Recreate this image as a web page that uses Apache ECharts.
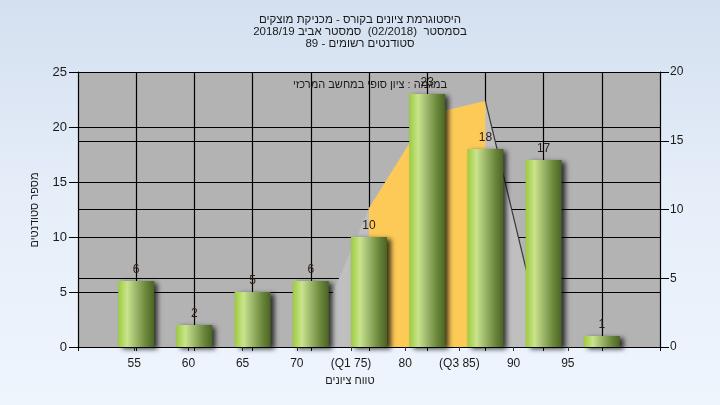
<!DOCTYPE html>
<html><head><meta charset="utf-8">
<script src="https://cdn.jsdelivr.net/npm/echarts@6/dist/echarts.min.js"></script>
<style>
html,body{margin:0;padding:0;}
#c{width:720px;height:405px;background:linear-gradient(to bottom,#d4e0f0 0%,#e6eef9 50%,#eef5fd 100%);}
</style></head>
<body><div id="c"></div>
<script>
// ---- data ----
const categories = ['55', '60', '65', '70', '(Q1 75)', '80', '(Q3 85)', '90', '95'];
const counts = [6, 2, 5, 6, 10, 23, 18, 17, 1];
// curve on the right axis
const curveOuter = [null, null, null, 0.2, 10.1, 16.9, 17.9, 0.4, null];
const curveIQR = [null, null, null, null, 10.1, 16.9, 17.9, null, null];
const curveTail = [null, null, null, null, null, null, 17.9, 0.4, null];
const titleLines = ['היסטוגרמת ציונים בקורס - מכניקת מוצקים', 'בסמסטר  (02/2018)  סמסטר אביב 2018/19', 'סטודנטים רשומים - 89'];
const subText = 'במגמה : ציון סופי במחשב המרכזי';
const xName = 'טווח ציונים';
const yName = 'מספר סטודנטים';

const pad = a => [null].concat(a, [null]);
const cats = [''].concat(categories, ['']);
const FONT = '"Liberation Sans", "DejaVu Sans", Arial, sans-serif';

const chart = echarts.init(document.getElementById('c'));
const barGrad = new echarts.graphic.LinearGradient(0, 0, 1, 0, [
  {offset: 0, color: '#9dcb3e'},
  {offset: 0.25, color: '#c9e48c'},
  {offset: 0.5, color: '#9cb66a'},
  {offset: 0.75, color: '#6d8a3d'},
  {offset: 1, color: '#4a6424'}
]);
chart.setOption({
  animation: false,
  textStyle: {fontFamily: FONT},
  title: {
    text: titleLines.join('\n'), left: 'center', top: 9,
    textStyle: {fontSize: 11.5, fontWeight: 'normal', color: '#1a1a1a', lineHeight: 12, fontFamily: FONT}
  },
  grid: [
    {left: 78, right: 60, top: 72, bottom: 58, show: true, backgroundColor: '#b3b3b3', borderWidth: 0},
    {left: 80, width: 542, top: 72, bottom: 58, show: false}
  ],
  xAxis: [
    {
      type: 'category', data: cats, boundaryGap: false, gridIndex: 0,
      axisLine: {show: true, lineStyle: {color: '#000', width: 1}},
      axisTick: {show: true, length: 4, lineStyle: {color: '#000'}},
      axisLabel: {show: false},
      splitLine: {show: true, lineStyle: {color: '#000', width: 1.2}}
    },
    {
      type: 'category', data: cats, boundaryGap: false, gridIndex: 1,
      axisLine: {show: false},
      axisTick: {show: true, length: 4, lineStyle: {color: '#333'}, interval: (i) => i > 0 && i < 10},
      axisLabel: {show: true, fontSize: 12, color: '#1a1a1a', margin: 11, interval: 0, fontFamily: FONT},
      splitLine: {show: false}
    }
  ],
  yAxis: [
    {
      type: 'value', min: 0, max: 25, interval: 5, gridIndex: 0, position: 'left',
      axisLine: {show: true, lineStyle: {color: '#000'}},
      axisTick: {show: true, length: 9, lineStyle: {color: '#000'}},
      axisLabel: {fontSize: 13, color: '#1a1a1a', margin: 11, fontFamily: FONT},
      splitLine: {show: true, lineStyle: {color: '#000', width: 1.2}}
    },
    {
      type: 'value', min: 0, max: 20, interval: 5, gridIndex: 0, position: 'right',
      axisLine: {show: true, lineStyle: {color: '#000'}},
      axisTick: {show: true, length: 9, lineStyle: {color: '#000'}},
      axisLabel: {fontSize: 12, color: '#1a1a1a', margin: 10, fontFamily: FONT},
      splitLine: {show: true, lineStyle: {color: '#000', width: 1.2}}
    },
    {type: 'value', gridIndex: 1, show: false}
  ],
  series: [
    {
      type: 'line', xAxisIndex: 0, yAxisIndex: 1, data: pad(curveOuter),
      showSymbol: false, symbol: 'none', lineStyle: {width: 0, opacity: 0},
      areaStyle: {color: '#bfbfbf', opacity: 1}, z: 1
    },
    {
      type: 'line', xAxisIndex: 0, yAxisIndex: 1, data: pad(curveIQR),
      showSymbol: false, symbol: 'none', lineStyle: {width: 0, opacity: 0},
      areaStyle: {color: '#fdca57', opacity: 1}, z: 2
    },
    {
      type: 'line', xAxisIndex: 0, yAxisIndex: 1, data: pad(curveTail),
      showSymbol: false, symbol: 'none', lineStyle: {width: 1.2, color: '#3a3a3a'}, z: 3
    },
    {
      type: 'bar', xAxisIndex: 0, yAxisIndex: 0, data: pad(counts), barWidth: 36, z: 4,
      itemStyle: {color: barGrad, shadowColor: 'rgba(0,0,0,0.75)', shadowBlur: 5, shadowOffsetX: 4, shadowOffsetY: 2},
      label: {show: true, position: 'top', distance: 5, fontSize: 12, color: '#2a1a10', fontFamily: FONT}
    }
  ],
  graphic: [
    {type: 'text', x: 370, y: 85, z: 10,
      style: {text: subText, fill: '#1a1a1a', font: '11px ' + FONT, textAlign: 'center', textVerticalAlign: 'middle'}},
    {type: 'text', x: 350, y: 381, z: 10,
      style: {text: xName, fill: '#1a1a1a', font: '11px ' + FONT, textAlign: 'center', textVerticalAlign: 'middle'}},
    {type: 'text', x: 35, y: 210, rotation: Math.PI / 2, z: 10,
      style: {text: yName, fill: '#1a1a1a', font: '11px ' + FONT, textAlign: 'center', textVerticalAlign: 'middle'}}
  ]
});
</script></body></html>
